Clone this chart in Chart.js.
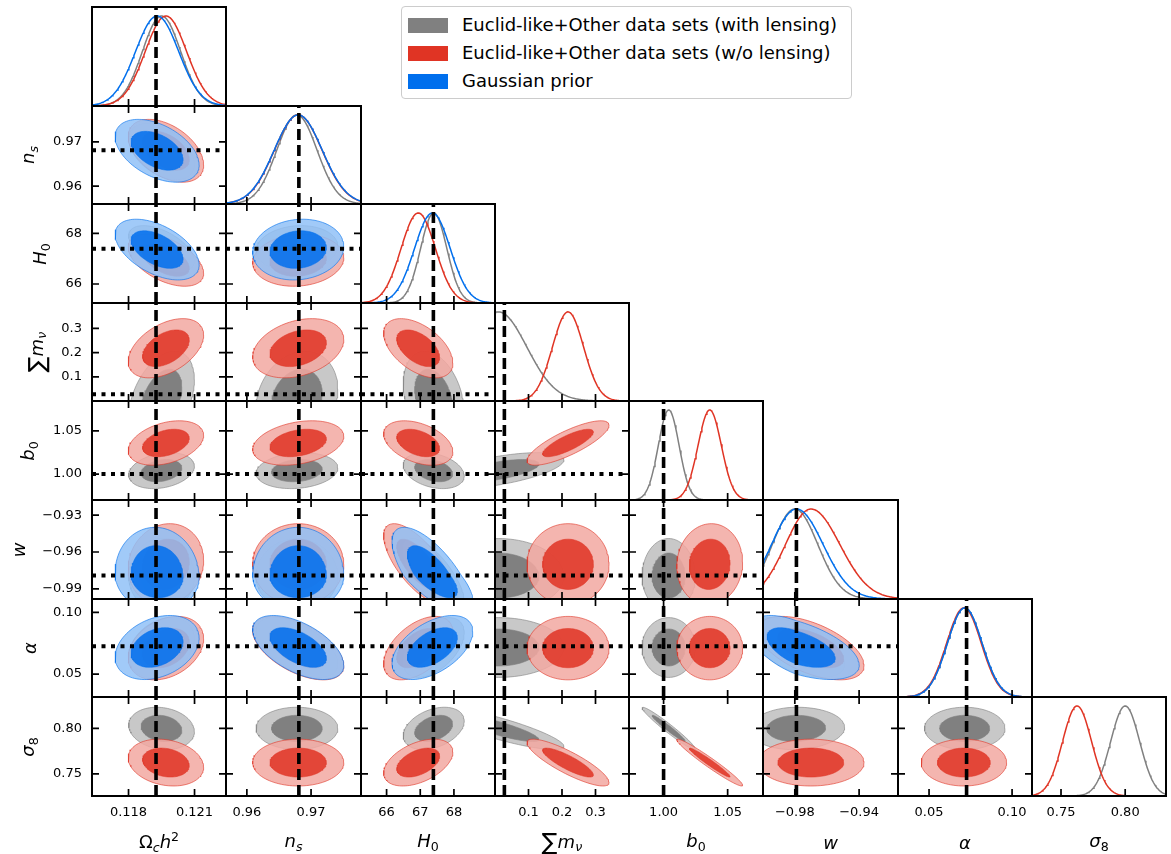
<!DOCTYPE html>
<html lang="en">
<head>
<meta charset="UTF-8">
<title>Triangle plot</title>
<script src="https://cdn.jsdelivr.net/npm/chart.js"></script>
<style>
  body { margin: 0; background: #fff; font-family: "DejaVu Sans", sans-serif; }
  #wrap { position: relative; width: 1171px; height: 854px; overflow: hidden; }
  #wrap canvas { position: absolute; }
  .title { position: absolute; font-size: 18px; line-height: 1; color: #000; white-space: nowrap; }
  .title sub { font-size: 0.7em; vertical-align: -0.3em; }
  .title sup { font-size: 0.7em; vertical-align: 0.55em; }
  .title .sum { font-size: 1.3em; vertical-align: -0.12em; }
  .legend { position: absolute; left: 401px; top: 6px; width: 449px; height: 91px;
            border: 1px solid #cccccc; border-radius: 4px; background: #fff; }
  .legend .row { position: absolute; left: 6px; height: 20px; font-size: 18px; line-height: 20px; white-space: nowrap; }
  .legend .patch { display: inline-block; width: 40px; height: 15px; vertical-align: -2px; margin-right: 14px; }
</style>
</head>
<body>
<div id="wrap">
  <div class="legend">
    <div class="row" style="top:8px"><span class="patch" style="background:#808080"></span>Euclid-like+Other data sets (with lensing)</div>
    <div class="row" style="top:36px"><span class="patch" style="background:#E03424"></span>Euclid-like+Other data sets (w/o lensing)</div>
    <div class="row" style="top:64px"><span class="patch" style="background:#006FED"></span>Gaussian prior</div>
  </div>
</div>
<script>
// parameters: Omega_c h^2, n_s, H0, sum m_nu, b0, w, alpha, sigma8
const axisTitles = [
  'Ω<sub><i>c</i></sub><i>h</i><sup>2</sup>',
  '<i>n</i><sub><i>s</i></sub>',
  '<i>H</i><sub>0</sub>',
  '<span class="sum">∑</span><i>m</i><sub><i>ν</i></sub>',
  '<i>b</i><sub>0</sub>',
  '<i>w</i>',
  '<i>α</i>',
  '<i>σ</i><sub>8</sub>'
];

// fiducial values (dashed / dotted lines)
const fiducial = [0.11925, 0.9681, 67.39, 0.028, 1.00, -0.979, 0.0726, null];

// axis limits: columns (x) and rows (y)
const colMin = [0.11634, 0.95675, 65.24, 0.0, 0.973, -0.9998, 0.0313, 0.7274];
const colMax = [0.12243, 0.97778, 69.22, 0.4, 1.0776, -0.9158, 0.1120, 0.8318];
const rowMin = [0, 0.95597, 65.25, 0.0, 0.970, -0.9982, 0.0314, 0.7258];
const rowMax = [1, 0.97812, 69.16, 0.405, 1.0846, -0.9177, 0.1108, 0.8345];

const xTicks = [[0.118, 0.121], [0.96, 0.97], [66, 67, 68], [0.1, 0.2, 0.3], [1.00, 1.05], [-0.98, -0.94], [0.05, 0.10], [0.75, 0.80]];
const xTickLabels = [['0.118', '0.121'], ['0.96', '0.97'], ['66', '67', '68'], ['0.1', '0.2', '0.3'], ['1.00', '1.05'], ['\u22120.98', '\u22120.94'], ['0.05', '0.10'], ['0.75', '0.80']];
const yTicks = [[], [0.96, 0.97], [66, 68], [0.1, 0.2, 0.3], [1.00, 1.05], [-0.99, -0.96, -0.93], [0.05, 0.10], [0.75, 0.80]];
const yTickLabels = [[], ['0.96', '0.97'], ['66', '68'], ['0.1', '0.2', '0.3'], ['1.00', '1.05'], ['\u22120.99', '\u22120.96', '\u22120.93'], ['0.05', '0.10'], ['0.75', '0.80']];

// Euclid-like + other data (with lensing)
const grayMean    = [0.1195, 0.9678, 67.40, 0.01, 1.004, -0.980, 0.0715, 0.800];
const graySigma   = [0.00061, 0.0026, 0.37, 0.08, 0.0085, 0.0115, 0.0099, 0.0095];
const graySkew    = [1, 1, 1, 1, 1, 1.1, 1, 1];
const graySigma1d = [0.00087, 0.00313, 0.39, 0.085, 0.0081, 0.0140, 0.0104, 0.0113];
const graySkew1d  = [1, 1, 1, 1, 1, 1.02, 1, 1];
// Euclid-like + other data (w/o lensing)
const redMean    = [0.1197, 0.9680, 66.94, 0.218, 1.036, -0.970, 0.0710, 0.7625];
const redSigma   = [0.00070, 0.0029, 0.42, 0.050, 0.0105, 0.0135, 0.0105, 0.0105];
const redSkew    = [1, 1, 1, 1, 1, 1, 1, 1];
const redSigma1d = [0.00094, 0.0037, 0.51, 0.0465, 0.0091, 0.0158, 0.0104, 0.0113];
const redSkew1d  = [1, 1, 1, 1, 1, 1.14, 1, 1];
// Gaussian prior
const blueMean    = [0.1193, 0.9680, 67.36, null, null, -0.979, 0.0715, null];
const blueSigma   = [0.00078, 0.0029, 0.49, null, null, 0.012, 0.0106, null];
const blueSkew    = [1, 1, 1, 1, 1, 1.33, 1, 1];
const blueSigma1d = [0.00098, 0.00373, 0.53, null, null, 0.0155, 0.0104, null];
const blueSkew1d  = [1, 1, 1, 1, 1, 1.07, 1, 1];

// correlation coefficients, row i lists rho(i, j) for j < i
const grayCorr = [
  [],
  [-0.45],
  [-0.55, 0.1],
  [0.4, 0.2, -0.3],
  [0.25, 0.15, -0.3, 0.6],
  [0.0, 0.0, -0.7, 0.0, 0.0],
  [0.3, -0.55, 0.5, 0.0, 0.0, -0.55],
  [-0.15, 0.0, 0.35, -0.85, -0.97, 0.05, 0.0]
];
const redCorr = [
  [],
  [-0.45],
  [-0.5, 0.1],
  [0.45, 0.3, -0.5],
  [0.35, 0.3, -0.4, 0.8],
  [0.1, 0.0, -0.7, 0.0, 0.05],
  [0.3, -0.55, 0.5, 0.0, 0.0, -0.55],
  [-0.2, 0.0, 0.45, -0.85, -0.97, 0.0, 0.0]
];
const blueCorr = [
  [],
  [-0.45],
  [-0.5, 0.1],
  [],
  [],
  [-0.05, 0.0, -0.7, null, null],
  [0.3, -0.55, 0.5, null, null, -0.55],
  []
];

// 95% and 68% 2D contour radii
const levels = [2.448, 1.515];

function tint(hex, w, a) {
  const c = [1, 3, 5].map(p => parseInt(hex.slice(p, p + 2), 16));
  const m = c.map(v => Math.round(v + (255 - v) * w));
  return `rgba(${m[0]},${m[1]},${m[2]},${a})`;
}

function makeSet(color, mean, sigma, skew, sigma1d, skew1d, corr, alpha) {
  return { color, mean, sigma, skew, sigma1d, skew1d, corr,
    outer: tint(color, 0.57, alpha), inner: tint(color, 0, alpha), edge: tint(color, 0, 0.6) };
}
const sets = [
  makeSet('#808080', grayMean, graySigma, graySkew, graySigma1d, graySkew1d, grayCorr, 1),
  makeSet('#E03424', redMean, redSigma, redSkew, redSigma1d, redSkew1d, redCorr, 0.85),
  makeSet('#006FED', blueMean, blueSigma, blueSkew, blueSigma1d, blueSkew1d, blueCorr, 0.85)
];

function contour(mx, my, sx, sy, rho, k) {
  const pts = [];
  const c = Math.sqrt(1 - rho * rho);
  for (let n = 0; n <= 100; n++) {
    const t = n / 100 * 2 * Math.PI;
    const u = Math.cos(t), v = rho * Math.cos(t) + c * Math.sin(t);
    pts.push({ x: mx + k * u * (u < 0 ? sx[0] : sx[1]), y: my + k * v * (v < 0 ? sy[0] : sy[1]) });
  }
  return pts;
}

function diagDatasets(k) {
  const out = [];
  sets.forEach((s, n) => {
    if (s.mean[k] == null) return;
    const pts = [];
    for (let q = 0; q <= 160; q++) {
      const x = colMin[k] + (colMax[k] - colMin[k]) * q / 160;
      const d = x - s.mean[k];
      const sg = d < 0 ? s.sigma1d[k] : s.sigma1d[k] * s.skew1d[k];
      pts.push({ x, y: Math.exp(-0.5 * d * d / (sg * sg)) });
    }
    const peak = Math.max(...pts.map(p => p.y));
    pts.forEach(p => { p.y /= peak; });
    out.push({ data: pts, borderColor: s.color, borderWidth: 1.5, showLine: true, pointRadius: 0, fill: false, order: 10 - n });
  });
  return out;
}

function pairDatasets(i, j) {
  const out = [];
  sets.forEach((s, n) => {
    const rho = s.corr[i] ? s.corr[i][j] : null;
    if (rho == null || s.mean[i] == null || s.mean[j] == null) return;
    const sx = [s.sigma[j], s.sigma[j] * s.skew[j]];
    const sy = [s.sigma[i], s.sigma[i] * s.skew[i]];
    levels.forEach((k, l) => {
      out.push({
        data: contour(s.mean[j], s.mean[i], sx, sy, rho, k),
        showLine: true, pointRadius: 0, tension: 0, fill: 'shape',
        backgroundColor: l === 0 ? s.outer : s.inner,
        borderColor: l === 0 ? s.edge : s.inner,
        borderWidth: l === 0 ? 1 : 0.6,
        order: 20 - n * 2 - l
      });
    });
  });
  return out;
}

// frame and inward ticks on each panel
const framePlugin = {
  id: 'frame',
  afterDraw(chart, args, opts) {
    const { ctx, chartArea: a, scales } = chart;
    ctx.save();
    ctx.strokeStyle = '#000';
    ctx.lineWidth = 1.7;
    ctx.beginPath();
    opts.xt.forEach(v => {
      const px = scales.x.getPixelForValue(v);
      ctx.moveTo(px, a.bottom); ctx.lineTo(px, a.bottom - 7);
      if (opts.top) { ctx.moveTo(px, a.top); ctx.lineTo(px, a.top + 7); }
    });
    opts.yt.forEach(v => {
      const py = scales.y.getPixelForValue(v);
      ctx.moveTo(a.left, py); ctx.lineTo(a.left + 7, py);
      ctx.moveTo(a.right, py); ctx.lineTo(a.right - 7, py);
    });
    ctx.stroke();
    ctx.lineWidth = 2;
    ctx.strokeRect(a.left, a.top, a.right - a.left, a.bottom - a.top);
    ctx.restore();
  }
};

// keep the plot area fixed: no extra room for labels that overhang the axis ends
function noPad(s) {
  s.paddingLeft = 0; s.paddingRight = 0; s.paddingTop = 0; s.paddingBottom = 0;
}

Chart.defaults.font.family = 'DejaVu Sans';
const LEFT = 92, TOP = 7, PW = 134.25, PH = 98.6;
const M = 6, AXW = 80, AXH = 32;
const edgeX = k => Math.round(LEFT + k * PW);
const edgeY = k => Math.round(TOP + k * PH);
const wrap = document.getElementById('wrap');
const tickFont = { family: 'DejaVu Sans', size: 13 };

for (let i = 0; i < 8; i++) {
  for (let j = 0; j <= i; j++) {
    const diag = i === j;
    const showX = i === 7;
    const showY = j === 0 && !diag;
    const x0 = edgeX(j), x1 = edgeX(j + 1), y0 = edgeY(i), y1 = edgeY(i + 1);
    const cw = x1 - x0 + 2 * M + (showY ? AXW : 0);
    const ch = y1 - y0 + 2 * M + (showX ? AXH : 0);
    const cv = document.createElement('canvas');
    cv.width = cw; cv.height = ch;
    cv.style.width = cw + 'px'; cv.style.height = ch + 'px';
    cv.style.left = (x0 - M - (showY ? AXW : 0)) + 'px';
    cv.style.top = (y0 - M) + 'px';
    wrap.appendChild(cv);

    const yLo = diag ? 0 : rowMin[i], yHi = diag ? 1.1 : rowMax[i];
    const datasets = diag ? diagDatasets(i) : pairDatasets(i, j);
    if (fiducial[j] != null) {
      datasets.push({ data: [{ x: fiducial[j], y: yLo }, { x: fiducial[j], y: yHi }], showLine: true, pointRadius: 0,
        borderColor: '#000', borderWidth: 3.6, borderDash: [11, 5], order: 0 });
    }
    if (!diag && fiducial[i] != null) {
      datasets.push({ data: [{ x: colMin[j], y: fiducial[i] }, { x: colMax[j], y: fiducial[i] }], showLine: true, pointRadius: 0,
        borderColor: '#000', borderWidth: 4, borderDash: [4, 5.5], order: 0 });
    }

    new Chart(cv, {
      type: 'scatter',
      data: { datasets },
      options: {
        responsive: false, animation: false, events: [],
        layout: { padding: M },
        plugins: {
          legend: { display: false }, tooltip: { enabled: false },
          frame: { xt: xTicks[j], yt: diag ? [] : yTicks[i], top: !diag }
        },
        scales: {
          x: {
            type: 'linear', min: colMin[j], max: colMax[j], display: showX,
            grid: { display: false, drawTicks: false }, border: { display: false },
            ticks: { font: tickFont, color: '#000', padding: 9, autoSkip: false, maxRotation: 0,
                     callback: (v, n) => xTickLabels[j][n] },
            afterBuildTicks: s => { s.ticks = xTicks[j].map(v => ({ value: v })); },
            afterFit: s => { noPad(s); if (showX) s.height = AXH; }
          },
          y: {
            type: 'linear', min: yLo, max: yHi, display: showY,
            grid: { display: false, drawTicks: false }, border: { display: false },
            ticks: { font: tickFont, color: '#000', padding: 10, autoSkip: false,
                     callback: (v, n) => yTickLabels[i][n] },
            afterBuildTicks: s => { s.ticks = yTicks[i].map(v => ({ value: v })); },
            afterFit: s => { noPad(s); if (showY) s.width = AXW; }
          }
        }
      },
      plugins: [framePlugin]
    });
  }
}

// axis titles
const mctx = document.createElement('canvas').getContext('2d');
mctx.font = '13px "DejaVu Sans"';
for (let k = 0; k < 8; k++) {
  const b = document.createElement('div');
  b.className = 'title';
  b.innerHTML = axisTitles[k];
  b.style.left = ((edgeX(k) + edgeX(k + 1)) / 2) + 'px';
  b.style.top = '843px';
  b.style.transform = 'translate(-50%, -50%)';
  wrap.appendChild(b);
  if (k === 0) continue;
  const tw = Math.max(...yTickLabels[k].map(t => mctx.measureText(t).width));
  const l = document.createElement('div');
  l.className = 'title';
  l.innerHTML = axisTitles[k];
  l.style.left = (edgeX(0) - 10 - tw - 23) + 'px';
  l.style.top = ((edgeY(k) + edgeY(k + 1)) / 2) + 'px';
  l.style.transform = 'translate(-50%, -50%) rotate(-90deg)';
  wrap.appendChild(l);
}
</script>
</body>
</html>
